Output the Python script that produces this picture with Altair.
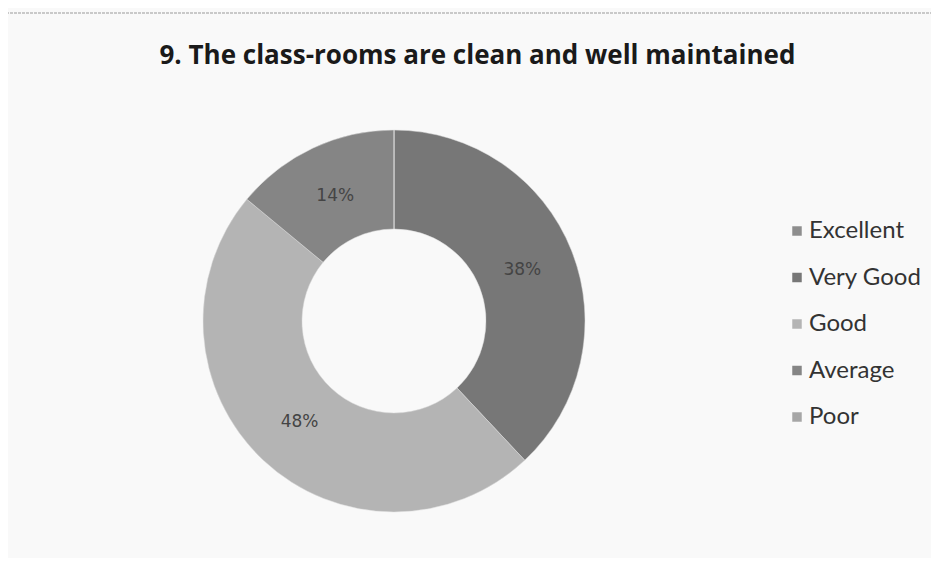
import altair as alt
import pandas as pd

categories = ["Excellent", "Very Good", "Good", "Average", "Poor"]
values = [0, 38, 48, 14, 0]
colors = ["#8e8e8e", "#777777", "#b4b4b4", "#858585", "#a6a6a6"]

df = pd.DataFrame({"category": categories, "value": values, "order": list(range(len(categories)))})
df["label"] = df["value"].astype(str) + "%"

W, H = 923, 550
CX, CY = 386, 313

color_scale = alt.Scale(domain=categories, range=colors)

base = alt.Chart(df).encode(
    theta=alt.Theta("value:Q", stack=True),
    order=alt.Order("order:Q"),
)

arcs = base.mark_arc(innerRadius=92, outerRadius=191, stroke="#dddddd", strokeWidth=0.5).encode(
    color=alt.Color(
        "category:N",
        scale=color_scale,
        sort=categories,
        legend=alt.Legend(
            title=None,
            orient="none",
            legendX=777,
            legendY=211,
            symbolType="square",
            symbolSize=90,
            symbolStrokeWidth=0,
            labelFont="Lato",
            labelFontSize=24,
            labelColor="#333333",
            rowPadding=22.5,
            labelOffset=0,
        ),
    ),
    x=alt.value(CX),
    y=alt.value(CY),
)

labels = base.mark_text(radius=138, font="DejaVu Sans", fontSize=17, color="#444444").encode(
    text=alt.Text("label:N"),
    x=alt.value(CX),
    y=alt.value(CY),
    opacity=alt.condition("datum.value > 0", alt.value(1), alt.value(0)),
)

frame = alt.Chart(pd.DataFrame({"a": [0]})).mark_rect(
    fill=None, stroke="#999999", strokeWidth=1, strokeDash=[3, 1]
).encode(x=alt.value(-2), x2=alt.value(W + 10), y=alt.value(5), y2=alt.value(H + 20))

chart = alt.layer(frame, arcs, labels).properties(
    width=W,
    height=H,
    title=alt.TitleParams(
        "9. The class-rooms are clean and well maintained",
        font="Open Sans",
        fontSize=26,
        fontWeight="bold",
        color="#1a1a1a",
        anchor="start",
        dx=154,
        dy=0,
        offset=-61,
        orient="top",
    ),
    autosize=alt.AutoSizeParams(type="none"),
    padding=0,
    background="#f9f9f9",
).configure_view(stroke=None)

chart.save("out.html", embed_options={"renderer": "svg", "actions": False})
